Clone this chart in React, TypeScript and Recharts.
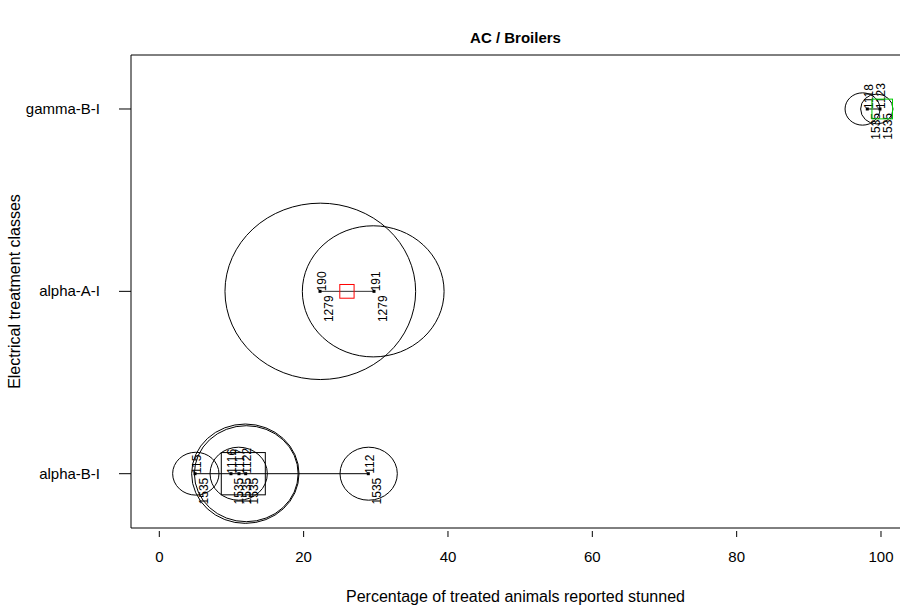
import React from 'react';
import { ScatterChart, Scatter, XAxis, YAxis, ReferenceArea, Label } from 'recharts';

const CATEGORIES = ['alpha-B-I', 'alpha-A-I', 'gamma-B-I'];
const X_TICKS = [0, 20, 40, 60, 80, 100];

// individual studies per treatment class (x = % stunned, id above, ref below)
const alphaBIx = [4.95, 9.93, 11.04, 11.97, 28.96];
const alphaBIids = ['115', '1116', '1117', '1122', '112'];
const alphaBIrefs = ['1535', '1535', '1535', '1535', '1535'];

const alphaAIx = [22.27, 29.75];
const alphaAIids = ['190', '191'];
const alphaAIrefs = ['1279', '1279'];

const gammaBIx = [98.1, 99.86];
const gammaBIids = ['1118', '1123'];
const gammaBIrefs = ['1535', '1535'];

// bubbles (study weight): centre x, class index (1..3), radius in x units
const bubbleX = [5.06, 11.0, 11.92, 12.05, 29.01, 22.31, 29.64, 97.44, 99.42];
const bubbleClass = [1, 1, 1, 1, 1, 2, 2, 3, 3];
const bubbleR = [3.21, 3.97, 7.44, 7.19, 3.97, 13.21, 9.82, 2.42, 2.24];

// pooled estimate per class: x and box size (x units)
const meanX = [11.64, 26.0, 100.17];
const meanSize = [6.1, 1.98, 2.85];

const MEAN_COLORS = ['#000000', '#ff0000', '#00cc00'];

const W = 900;
const H = 605;
const LEFT = 131;
const TOP = 55;
const X_DOMAIN: [number, number] = [-3.921, 102.91];
const Y_DOMAIN: [number, number] = [0.7022, 3.2961];
const PLOT_W = W + 2 - LEFT;
const PX_X = PLOT_W / (X_DOMAIN[1] - X_DOMAIN[0]);
const ELLIPSE = 0.925;
const FONT = '"Liberation Sans", Arial, Helvetica, sans-serif';

const studies = [
  alphaBIx.map((x, i) => ({ x, y: 1, id: alphaBIids[i], ref: alphaBIrefs[i] })),
  alphaAIx.map((x, i) => ({ x, y: 2, id: alphaAIids[i], ref: alphaAIrefs[i] })),
  gammaBIx.map((x, i) => ({ x, y: 3, id: gammaBIids[i], ref: gammaBIrefs[i] })),
];
const bubbles = bubbleX.map((x, i) => ({ x, y: bubbleClass[i], r: bubbleR[i] }));
const means = meanX.map((x, i) => ({ x, y: i + 1, s: meanSize[i], color: MEAN_COLORS[i] }));

function Bubble(props: any) {
  const { cx, cy, payload } = props;
  const rx = payload.r * PX_X;
  return <ellipse cx={cx} cy={cy} rx={rx} ry={rx * ELLIPSE} fill="none" stroke="#000" strokeWidth={1} />;
}

function StudyPoint(props: any) {
  const { cx, cy, payload } = props;
  const tx = cx + 5.5;
  const bx = cx + 12.5;
  const by = cy + 4;
  return (
    <g>
      <rect x={cx - 1.5} y={cy - 1.5} width={3} height={3} fill="#000" />
      <text x={tx} y={cy} transform={`rotate(-90 ${tx} ${cy})`} fontSize={12} fontFamily={FONT} textAnchor="start" fill="#000">
        {payload.id}
      </text>
      <text x={bx} y={by} transform={`rotate(-90 ${bx} ${by})`} fontSize={12} fontFamily={FONT} textAnchor="end" fill="#000">
        {payload.ref}
      </text>
    </g>
  );
}

function MeanBox(props: any) {
  const { cx, cy, payload } = props;
  const s = payload.s * PX_X;
  return <rect x={cx - s / 2} y={cy - (s * 0.96) / 2} width={s} height={s * 0.96} fill="none" stroke={payload.color} strokeWidth={1} />;
}

function XTick({ x, y, payload }: any) {
  return (
    <g>
      <line x1={x} x2={x} y1={y + 3} y2={y + 9} stroke="#000" />
      <text x={x} y={y + 34} textAnchor="middle" fontSize={15} fontFamily={FONT} fill="#000">
        {payload.value}
      </text>
    </g>
  );
}

function YTick({ x, y, payload }: any) {
  return (
    <g>
      <line x1={x - 12} x2={x} y1={y} y2={y} stroke="#000" />
      <text x={x - 31} y={y + 5} textAnchor="end" fontSize={15} fontFamily={FONT} fill="#000">
        {CATEGORIES[payload.value - 1]}
      </text>
    </g>
  );
}

export default function App() {
  return (
    <div style={{ position: 'absolute', left: 0, top: 0, width: W, height: H, background: '#fff', overflow: 'hidden' }}>
      <div
        style={{
          position: 'absolute',
          left: LEFT,
          top: 29,
          width: W - LEFT,
          textAlign: 'center',
          fontFamily: FONT,
          fontWeight: 'bold',
          fontSize: 15,
          color: '#000',
        }}
      >
        AC / Broilers
      </div>
      <ScatterChart width={W} height={H} margin={{ top: TOP, right: -2, bottom: 0, left: 0 }}>
        <XAxis
          type="number"
          dataKey="x"
          domain={X_DOMAIN}
          ticks={X_TICKS}
          allowDataOverflow
          axisLine={false}
          tickLine={false}
          tickSize={0}
          tickMargin={0}
          height={H - 528}
          tick={<XTick />}
        >
          <Label
            content={({ viewBox }: any) => (
              <text x={viewBox.x + (viewBox.width - 2) / 2} y={viewBox.y + 74} textAnchor="middle" fontSize={16} fontFamily={FONT} fill="#000">
                Percentage of treated animals reported stunned
              </text>
            )}
          />
        </XAxis>
        <YAxis
          type="number"
          dataKey="y"
          domain={Y_DOMAIN}
          ticks={[1, 2, 3]}
          allowDataOverflow
          axisLine={false}
          tickLine={false}
          tickSize={0}
          tickMargin={0}
          width={LEFT}
          tick={<YTick />}
        >
          <Label
            content={({ viewBox }: any) => {
              const cx = 20;
              const cy = viewBox.y + viewBox.height / 2;
              return (
                <text x={cx} y={cy} transform={`rotate(-90 ${cx} ${cy})`} textAnchor="middle" fontSize={16} fontFamily={FONT} fill="#000">
                  Electrical treatment classes
                </text>
              );
            }}
          />
        </YAxis>
        <ReferenceArea x1={X_DOMAIN[0]} x2={X_DOMAIN[1]} y1={Y_DOMAIN[0]} y2={Y_DOMAIN[1]} fill="none" stroke="#000" strokeWidth={1} />
        <Scatter data={bubbles} shape={<Bubble />} isAnimationActive={false} />
        {studies.map((d, i) => (
          <Scatter
            key={i}
            data={d}
            line={{ stroke: i === 1 ? '#333' : '#000', strokeWidth: 1 }}
            shape={<StudyPoint />}
            isAnimationActive={false}
          />
        ))}
        <Scatter data={means} shape={<MeanBox />} isAnimationActive={false} />
      </ScatterChart>
    </div>
  );
}
